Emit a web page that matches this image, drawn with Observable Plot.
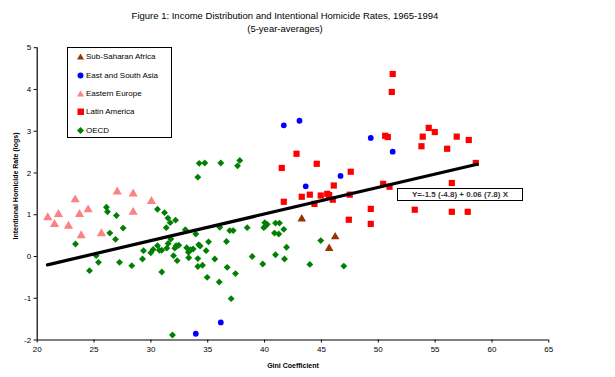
<!DOCTYPE html>
<html><head><meta charset="utf-8">
<script src="https://cdn.jsdelivr.net/npm/d3@7"></script>
<script src="https://cdn.jsdelivr.net/npm/@observablehq/plot@0.6"></script>
<style>
body{margin:0;background:#fff;font-family:"Liberation Sans",Arial,sans-serif;}
#wrap{position:relative;width:615px;height:377px;overflow:hidden;}
.t{position:absolute;white-space:nowrap;color:#000;line-height:1;}
#legend{position:absolute;left:67px;top:47px;width:103px;height:89px;border:1px solid #000;background:#fff;}
.li{position:absolute;left:9px;height:10px;font-size:8px;display:flex;align-items:center;white-space:nowrap;}
.li svg{margin-right:2px;}
#reg{position:absolute;left:397px;top:188px;width:124px;height:11px;border:1px solid #000;background:#fff;font-size:8px;font-weight:bold;color:#333;text-align:center;line-height:11px;white-space:nowrap;}
</style></head><body><div id="wrap"></div>
<script>
const titleText = "Figure 1: Income Distribution and Intentional Homicide Rates, 1965-1994";
const subtitleText = "(5-year-averages)";
const xLabel = "Gini Coefficient";
const yLabel = "Intentional Homicide Rate (logs)";
const regText = "Y=-1.5 (-4.8) + 0.06 (7.8) X";
const xTicks = [20, 25, 30, 35, 40, 45, 50, 55, 60, 65];
const yTicks = [-2, -1, 0, 1, 2, 3, 4, 5];

const groupNames = ["Sub-Saharan Africa", "East and South Asia", "Eastern Europe", "Latin America", "OECD"];

const ssaX = [43.27, 46.21, 45.68];
const ssaY = [0.90, 0.47, 0.19];

const asiaX = [41.69, 43.07, 49.34, 51.27, 46.68, 43.62, 33.95, 36.15];
const asiaY = [3.14, 3.25, 2.84, 2.51, 1.93, 1.68, -1.85, -1.58];

const eeX = [20.93, 21.52, 21.87, 22.75, 23.34, 23.72, 23.87, 24.48, 25.65, 27.04, 28.44, 28.44, 30.05];
const eeY = [0.93, 0.77, 1.01, 0.73, 1.36, 1.01, 0.50, 1.12, 0.55, 1.55, 1.06, 1.50, 1.32];

const latX = [41.51, 41.69, 42.81, 43.27, 43.98, 44.39, 44.59, 44.94, 45.51, 45.68, 46.00, 46.09, 47.41, 47.49, 47.58,
  49.34, 49.34, 50.43, 50.99, 50.61, 50.84, 51.19, 51.27, 53.21, 53.80, 53.91, 54.44, 54.97, 56.06, 56.47, 56.47,
  56.90, 57.87, 57.96, 58.58];
const latY = [2.12, 1.31, 2.46, 1.43, 1.48, 1.26, 2.22, 1.46, 1.50, 1.47, 1.36, 1.70, 0.88, 1.48, 2.03,
  1.14, 0.78, 1.74, 1.67, 2.89, 2.86, 3.94, 4.37, 1.12, 2.64, 2.87, 3.08, 2.98, 2.58, 1.76, 1.07,
  2.87, 1.07, 2.79, 2.24];

const oecdX = [23.37, 24.60, 25.19, 25.39, 26.09, 26.18, 26.39, 26.89, 26.97, 27.24, 27.56, 28.32, 29.26, 29.35,
  29.99, 30.20, 30.58, 30.58, 30.75, 30.96, 30.96, 31.20, 31.35, 31.50, 31.70, 32.17, 31.40, 31.52, 31.75, 31.99,
  32.10, 32.22, 32.31, 32.45, 33.03, 33.15, 33.30, 33.33, 33.50, 33.72, 33.95, 34.13, 34.25, 34.74, 34.21, 34.33,
  34.13, 34.13, 34.54, 34.86, 35.07, 34.95, 35.62, 36.01, 36.06, 36.15, 36.65, 36.71, 36.94, 37.24, 37.06, 37.44,
  37.62, 37.82, 38.47, 38.91, 39.84, 39.93, 40.08, 40.23, 40.02, 40.96, 41.31, 41.69, 40.87, 41.25, 41.93, 40.96,
  41.75, 43.98, 44.94, 46.97, 31.90];
const oecdY = [0.30, -0.34, 0.02, -0.14, 1.18, 1.07, 0.56, 0.41, 0.98, -0.14, 0.68, -0.22, -0.06, 0.14,
  0.09, 0.17, 1.13, 0.26, 0.15, 0.15, -0.37, 1.05, 0.69, 0.92, 0.81, 0.87, 0.20, 0.31, 0.42, 0.02,
  0.20, 0.26, -0.10, 0.27, 0.64, 0.21, 0.10, -0.03, 0.16, 0.18, 0.54, 1.90, 2.23, 2.24, 0.28, 0.25,
  -0.05, -0.24, -0.21, 0.14, 0.35, -0.50, -0.06, -0.61, 0.70, 2.24, 0.36, -0.26, 0.62, 0.62, -1.01, -0.41,
  2.17, 2.30, 0.69, 0.00, -0.18, 0.69, 0.73, 0.77, 0.81, 0.80, 0.80, 0.65, 0.56, 0.54, 0.22, 0.04,
  -0.06, -0.19, 0.38, -0.23, -1.88];

// fitted line endpoints
const fitX = [20.9, 58.7];
const fitY = [-0.20, 2.21];

const groups = [
  {name: groupNames[0], xs: ssaX, ys: ssaY, symbol: "triangle", fill: "#993300", r: 3.2},
  {name: groupNames[1], xs: asiaX, ys: asiaY, symbol: "circle", fill: "#0000ff", r: 2.9},
  {name: groupNames[2], xs: eeX, ys: eeY, symbol: "triangle", fill: "#ff8080", r: 3.4},
  {name: groupNames[3], xs: latX, ys: latY, symbol: "square", fill: "#ff0000", r: 3.5},
  {name: groupNames[4], xs: oecdX, ys: oecdY, symbol: "diamond2", fill: "#008000", r: 3.1}
];
const fitData = fitX.map((x, i) => ({x, y: fitY[i]}));

const font = "Liberation Sans, Arial, sans-serif";
const W = 615, H = 377;

const marks = [
  Plot.ruleX([xTicks[0]], {stroke: "#000", strokeWidth: 1.2}),
  Plot.ruleY([yTicks[0]], {stroke: "#000", strokeWidth: 1.2}),
  Plot.axisX({ticks: xTicks, tickSize: 3, tickPadding: 3, label: null, fontSize: 8, tickFormat: d => String(d)}),
  Plot.axisY({ticks: yTicks, tickSize: 3, tickPadding: 3, label: null, fontSize: 8, tickFormat: d => String(d)}),
  ...groups.map(g => Plot.dot(g.xs.map((x, i) => ({x, y: g.ys[i]})), {
    x: "x", y: "y", symbol: () => g.symbol, fill: g.fill, stroke: "none", r: g.r
  })),
  Plot.line(fitData, {x: "x", y: "y", stroke: "#000", strokeWidth: 3.2})
];

const chart = Plot.plot({
  width: W, height: H,
  marginLeft: 36.7, marginRight: 66.7, marginTop: 47.2, marginBottom: 37.5,
  x: {domain: [20, 65]},
  y: {domain: [-2, 5]},
  symbol: {type: "identity"},
  style: {fontFamily: font, fontSize: "8px", background: "#fff", color: "#000"},
  marks
});

const wrap = document.getElementById("wrap");
chart.style.position = "absolute";
chart.style.left = "0"; chart.style.top = "0";
wrap.appendChild(chart);

function addText(txt, left, top, css) {
  const d = document.createElement("div");
  d.className = "t";
  d.textContent = txt;
  d.style.left = left + "px"; d.style.top = top + "px";
  Object.assign(d.style, css || {});
  wrap.appendChild(d);
  return d;
}
addText(titleText, 285, 16, {fontSize: "9.5px", transform: "translate(-50%,-50%)"});
addText(subtitleText, 285, 29, {fontSize: "9.5px", transform: "translate(-50%,-50%)"});
addText(xLabel, 293, 365, {fontSize: "7px", fontWeight: "bold", transform: "translate(-50%,-50%)"});
addText(yLabel, 15, 186, {fontSize: "7px", fontWeight: "bold", transform: "translate(-50%,-50%) rotate(-90deg)"});

const legend = document.createElement("div");
legend.id = "legend";
const shapes = {
  triangle: c => `<polygon points="3.5,0.5 7,6.5 0,6.5" fill="${c}"/>`,
  circle: c => `<circle cx="3.5" cy="3.5" r="3" fill="${c}"/>`,
  square: c => `<rect x="0.5" y="0.5" width="6.5" height="6.5" fill="${c}"/>`,
  diamond2: c => `<polygon points="3.5,0 7,3.5 3.5,7 0,3.5" fill="${c}"/>`
};
groups.forEach((g, i) => {
  const li = document.createElement("div");
  li.className = "li";
  li.style.top = (3.7 + i * 18.4) + "px";
  li.innerHTML = `<svg width="7" height="7" viewBox="0 0 7 7">${shapes[g.symbol](g.fill)}</svg><span></span>`;
  li.querySelector("span").textContent = g.name;
  legend.appendChild(li);
});
wrap.appendChild(legend);

const reg = document.createElement("div");
reg.id = "reg";
reg.textContent = regText;
wrap.appendChild(reg);
</script>
</body></html>
